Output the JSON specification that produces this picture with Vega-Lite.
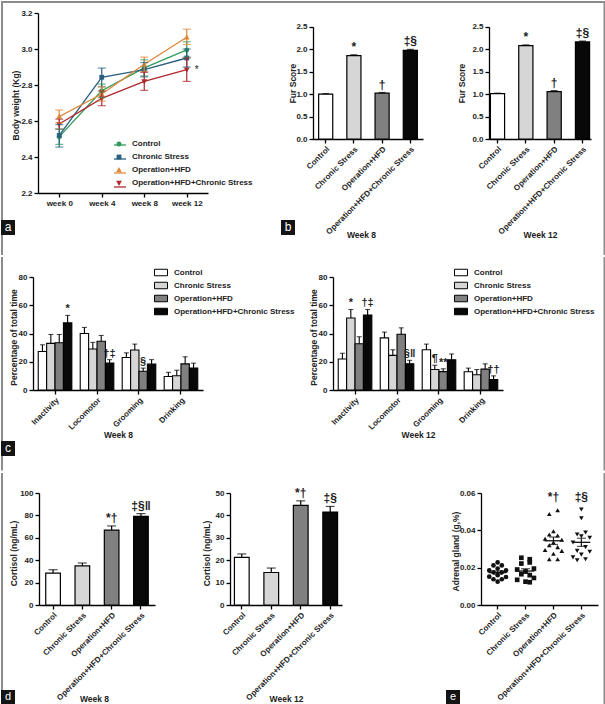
{
"$schema": "https://vega.github.io/schema/vega-lite/v6.json",
"padding": 0,
"background": "#ffffff",
"config": {
  "view": {"stroke": null},
  "font": "Liberation Sans",
  "axis": {"grid": false, "domainColor": "#000", "domainWidth": 1.3, "tickColor": "#000", "tickWidth": 1.3, "tickSize": 4, "labelFont": "Liberation Sans", "labelFontSize": 8, "labelFontWeight": "bold", "labelColor": "#222", "titleFont": "Liberation Sans", "titleFontSize": 8.5, "titleFontWeight": "bold", "titleColor": "#222", "labelPadding": 2, "labelOverlap": false},
  "legend": {"labelFont": "Liberation Sans", "labelFontSize": 8, "labelFontWeight": "bold", "labelColor": "#222", "padding": 0}
},
"spacing": 0,
"resolve": {"scale": {"color": "independent", "shape": "independent", "stroke": "independent", "xOffset": "independent", "x": "independent", "y": "independent"}, "legend": {"color": "independent", "shape": "independent", "stroke": "independent"}},
"vconcat": [
{"hconcat": [
{"width": 37, "height": 180, "data": {"values": [{"l": "a"}]}, "layer": [
  {"mark": {"type": "rect", "opacity": 0}, "encoding": {"x": {"value": 0}, "x2": {"value": 1}, "y": {"value": -12}, "y2": {"value": 242}}},
  {"mark": {"type": "rule", "color": "#8c8c8c", "strokeWidth": 2}, "encoding": {"x": {"value": 1}, "y": {"value": -12}, "y2": {"value": 242}}},
  {"mark": {"type": "rule", "color": "#8c8c8c", "strokeWidth": 2}, "encoding": {"x": {"value": 603.5}, "y": {"value": -12}, "y2": {"value": 242}}},
  {"mark": {"type": "rule", "color": "#8c8c8c", "strokeWidth": 2}, "encoding": {"x": {"value": 0}, "x2": {"value": 604.5}, "y": {"value": -11}}},
  {"mark": {"type": "rect", "color": "#141414"}, "encoding": {"x": {"value": 0}, "x2": {"value": 14}, "y": {"value": 207}, "y2": {"value": 222}}},
  {"mark": {"type": "text", "color": "#ffffff", "fontSize": 12, "align": "center", "baseline": "middle"}, "encoding": {"x": {"value": 7}, "y": {"value": 214}, "text": {"field": "l"}}}
]},
{"width": 170, "height": 180,
 "data": {"values": [
  {"group": "Control", "sym": "1", "wk": 0, "value": 2.513, "lo": 2.47, "hi": 2.555},
  {"group": "Control", "sym": "1", "wk": 4, "value": 2.768, "lo": 2.73, "hi": 2.805},
  {"group": "Control", "sym": "1", "wk": 8, "value": 2.895, "lo": 2.85, "hi": 2.94},
  {"group": "Control", "sym": "1", "wk": 12, "value": 2.995, "lo": 2.955, "hi": 3.04},
  {"group": "Chronic Stress", "sym": "2", "wk": 0, "value": 2.52, "lo": 2.455, "hi": 2.58},
  {"group": "Chronic Stress", "sym": "2", "wk": 4, "value": 2.843, "lo": 2.79, "hi": 2.894},
  {"group": "Chronic Stress", "sym": "2", "wk": 8, "value": 2.885, "lo": 2.845, "hi": 2.925},
  {"group": "Chronic Stress", "sym": "2", "wk": 12, "value": 2.95, "lo": 2.9, "hi": 3.0},
  {"group": "Operation+HFD", "sym": "3", "wk": 0, "value": 2.624, "lo": 2.59, "hi": 2.661},
  {"group": "Operation+HFD", "sym": "3", "wk": 4, "value": 2.75, "lo": 2.71, "hi": 2.79},
  {"group": "Operation+HFD", "sym": "3", "wk": 8, "value": 2.915, "lo": 2.875, "hi": 2.955},
  {"group": "Operation+HFD", "sym": "3", "wk": 12, "value": 3.065, "lo": 3.025, "hi": 3.11},
  {"group": "Operation+HFD+Chronic Stress", "sym": "4", "wk": 0, "value": 2.583, "lo": 2.555, "hi": 2.61},
  {"group": "Operation+HFD+Chronic Stress", "sym": "4", "wk": 4, "value": 2.726, "lo": 2.685, "hi": 2.767},
  {"group": "Operation+HFD+Chronic Stress", "sym": "4", "wk": 8, "value": 2.82, "lo": 2.77, "hi": 2.87},
  {"group": "Operation+HFD+Chronic Stress", "sym": "4", "wk": 12, "value": 2.885, "lo": 2.82, "hi": 2.95}
 ]},
 "encoding": {"x": {"field": "wk", "type": "quantitative", "scale": {"domain": [-2, 14], "nice": false, "zero": false}, "axis": {"values": [0, 4, 8, 12], "tickCount": 20, "labelExpr": "'week ' + datum.value", "title": null, "labelFlush": false}}},
 "layer": [
  {"mark": {"type": "line", "strokeWidth": 1.3}, "encoding": {
    "y": {"field": "value", "type": "quantitative", "scale": {"domain": [2.2, 3.2], "nice": false, "zero": false}, "axis": {"values": [2.2, 2.4, 2.6, 2.8, 3.0, 3.2], "tickCount": 20, "format": ".1f", "title": "Body weight (Kg)", "titleX": -23, "titleY": 92, "titleBaseline": "middle"}},
    "stroke": {"field": "sym", "type": "nominal", "scale": {"domain": ["1", "2", "3", "4"], "range": ["#2f9a5b", "#2a5f80", "#e0883a", "#b0282c"]},
      "legend": {"orient": "none", "legendX": 75, "legendY": 125, "title": null, "symbolType": "stroke", "symbolSize": 144, "symbolStrokeWidth": 1.3, "labelExpr": "' '", "labelOffset": 7, "rowPadding": 3}}}},
  {"mark": {"type": "point", "filled": true, "size": 144, "opacity": 1}, "encoding": {"y": {"field": "value", "type": "quantitative"},
    "color": {"field": "group", "type": "nominal", "scale": {"domain": ["Control", "Chronic Stress", "Operation+HFD", "Operation+HFD+Chronic Stress"], "range": ["#2f9a5b", "#2a5f80", "#e0883a", "#b0282c"]},
      "legend": {"orient": "none", "legendX": 75, "legendY": 125, "title": null, "symbolSize": 144, "labelOffset": 7, "rowPadding": 3, "symbolStrokeWidth": 0}},
    "shape": {"field": "group", "type": "nominal", "scale": {"domain": ["Control", "Chronic Stress", "Operation+HFD", "Operation+HFD+Chronic Stress"], "range": ["M0,-0.42A0.42,0.42 0 1 1 0,0.42A0.42,0.42 0 1 1 0,-0.42Z", "M-0.4,-0.4H0.4V0.4H-0.4Z", "M0,-0.52L0.48,0.36H-0.48Z", "M0,0.52L0.48,-0.36H-0.48Z"]},
      "legend": {"orient": "none", "legendX": 75, "legendY": 125, "title": null, "symbolSize": 144, "labelOffset": 7, "rowPadding": 3, "symbolStrokeWidth": 0}}}},
  {"mark": {"type": "rule", "strokeWidth": 1.2}, "encoding": {"y": {"field": "lo", "type": "quantitative"}, "y2": {"field": "hi"}, "color": {"field": "group", "type": "nominal"}}},
  {"mark": {"type": "tick", "size": 8, "thickness": 1.2, "orient": "horizontal"}, "encoding": {"y": {"field": "lo", "type": "quantitative"}, "color": {"field": "group", "type": "nominal"}}},
  {"mark": {"type": "tick", "size": 8, "thickness": 1.2, "orient": "horizontal"}, "encoding": {"y": {"field": "hi", "type": "quantitative"}, "color": {"field": "group", "type": "nominal"}}},
  {"data": {"values": [{"wk": 12, "value": 2.885, "ann": "*"}]}, "mark": {"type": "text", "dx": 8, "align": "left", "baseline": "middle", "fontSize": 10, "color": "#222"}, "encoding": {"y": {"field": "value", "type": "quantitative"}, "text": {"field": "ann"}}}
 ]},
{"width": 105, "height": 180, "data": {"values": [{"l": "b"}]}, "layer": [
  {"mark": {"type": "rect", "color": "#141414"}, "encoding": {"x": {"value": 73}, "x2": {"value": 87}, "y": {"value": 207}, "y2": {"value": 222}}},
  {"mark": {"type": "text", "color": "#ffffff", "fontSize": 12, "align": "center", "baseline": "middle"}, "encoding": {"x": {"value": 80}, "y": {"value": 214}, "text": {"field": "l"}}}
]},
{"width": 110, "height": 126,
 "data": {"values": [
  {"group": "Control", "value": 1.0, "hi": 1.01, "ann": ""},
  {"group": "Chronic Stress", "value": 1.855, "hi": 1.875, "ann": "*"},
  {"group": "Operation+HFD", "value": 1.02, "hi": 1.035, "ann": "†"},
  {"group": "Operation+HFD+Chronic Stress", "value": 1.975, "hi": 1.995, "ann": "‡§"}
 ]},
 "encoding": {"x": {"field": "group", "type": "nominal", "sort": ["Control", "Chronic Stress", "Operation+HFD", "Operation+HFD+Chronic Stress"], "scale": {"paddingInner": 0.5, "paddingOuter": 0.2}, "axis": {"labelAngle": -45, "title": "Week 8", "titleX": 48, "titleY": 95.7, "titleBaseline": "middle"}}},
 "layer": [
  {"mark": {"type": "bar", "stroke": "#000", "strokeWidth": 1.2}, "encoding": {
    "y": {"field": "value", "type": "quantitative", "scale": {"domain": [0, 2.5], "range": [126, 13.7], "nice": false}, "axis": {"values": [0, 0.5, 1, 1.5, 2, 2.5], "tickCount": 20, "format": ".1f", "title": "Fur Score", "titleX": -21, "titleY": 70, "titleBaseline": "middle"}},
    "color": {"field": "group", "type": "nominal", "scale": {"domain": ["Control", "Chronic Stress", "Operation+HFD", "Operation+HFD+Chronic Stress"], "range": ["#ffffff", "#d6d6d6", "#808080", "#080808"]}, "legend": null}}},
  {"mark": {"type": "rule", "color": "#000", "strokeWidth": 1.2}, "encoding": {"y": {"field": "value", "type": "quantitative"}, "y2": {"field": "hi"}}},
  {"mark": {"type": "tick", "color": "#000", "size": 7, "thickness": 1.2}, "encoding": {"y": {"field": "hi", "type": "quantitative"}}},
  {"mark": {"type": "text", "baseline": "bottom", "dy": -1, "fontSize": 12, "fontWeight": "bold", "color": "#222"}, "encoding": {"y": {"field": "hi", "type": "quantitative"}, "text": {"field": "ann"}}}
 ]},
{"width": 66, "height": 1, "data": {"values": [{}]}, "mark": {"type": "point", "opacity": 0}},
{"width": 102, "height": 126,
 "data": {"values": [
  {"group": "Control", "value": 1.01, "hi": 1.02, "ann": ""},
  {"group": "Chronic Stress", "value": 2.08, "hi": 2.095, "ann": "*"},
  {"group": "Operation+HFD", "value": 1.055, "hi": 1.075, "ann": "†"},
  {"group": "Operation+HFD+Chronic Stress", "value": 2.16, "hi": 2.18, "ann": "‡§"}
 ]},
 "encoding": {"x": {"field": "group", "type": "nominal", "sort": ["Control", "Chronic Stress", "Operation+HFD", "Operation+HFD+Chronic Stress"], "scale": {"paddingInner": 0.5, "paddingOuter": 0.05}, "axis": {"labelAngle": -45, "title": "Week 12", "titleY": 95.7, "titleBaseline": "middle"}}},
 "layer": [
  {"mark": {"type": "bar", "stroke": "#000", "strokeWidth": 1.2}, "encoding": {
    "y": {"field": "value", "type": "quantitative", "scale": {"domain": [0, 2.5], "range": [126, 13.7], "nice": false}, "axis": {"values": [0, 0.5, 1, 1.5, 2, 2.5], "tickCount": 20, "format": ".1f", "title": "Fur Score", "titleX": -28, "titleY": 70, "titleBaseline": "middle"}},
    "color": {"field": "group", "type": "nominal", "scale": {"domain": ["Control", "Chronic Stress", "Operation+HFD", "Operation+HFD+Chronic Stress"], "range": ["#ffffff", "#d6d6d6", "#808080", "#080808"]}, "legend": null}}},
  {"mark": {"type": "rule", "color": "#000", "strokeWidth": 1.2}, "encoding": {"y": {"field": "value", "type": "quantitative"}, "y2": {"field": "hi"}}},
  {"mark": {"type": "tick", "color": "#000", "size": 7, "thickness": 1.2}, "encoding": {"y": {"field": "hi", "type": "quantitative"}}},
  {"mark": {"type": "text", "baseline": "bottom", "dy": -1, "fontSize": 12, "fontWeight": "bold", "color": "#222"}, "encoding": {"y": {"field": "hi", "type": "quantitative"}, "text": {"field": "ann"}}}
 ]}
], "spacing": 0, "bounds": "flush",
 "resolve": {"scale": {"color": "independent", "shape": "independent", "stroke": "independent", "xOffset": "independent", "x": "independent", "y": "independent"}, "legend": {"color": "independent", "shape": "independent", "stroke": "independent"}}},
{"hconcat": [
{"width": 32, "height": 113, "data": {"values": [{"l": "c"}]}, "layer": [
  {"mark": {"type": "rect", "opacity": 0}, "encoding": {"x": {"value": 0}, "x2": {"value": 1}, "y": {"value": -20}, "y2": {"value": 193.4}}},
  {"mark": {"type": "rule", "color": "#8c8c8c", "strokeWidth": 2}, "encoding": {"x": {"value": 1}, "y": {"value": -20}, "y2": {"value": 193.4}}},
  {"mark": {"type": "rule", "color": "#8c8c8c", "strokeWidth": 2}, "encoding": {"x": {"value": 603.5}, "y": {"value": -20}, "y2": {"value": 193.4}}},
  {"mark": {"type": "rect", "color": "#141414"}, "encoding": {"x": {"value": 0}, "x2": {"value": 14}, "y": {"value": 164}, "y2": {"value": 179}}},
  {"mark": {"type": "text", "color": "#ffffff", "fontSize": 12, "align": "center", "baseline": "middle"}, "encoding": {"x": {"value": 7}, "y": {"value": 171}, "text": {"field": "l"}}}
]},
{"width": 170, "height": 113,
 "data": {"values": [
  {"behavior": "Inactivity", "group": "Control", "value": 27.3, "hi": 32.0, "ann": ""},
  {"behavior": "Inactivity", "group": "Chronic Stress", "value": 33.0, "hi": 39.3, "ann": ""},
  {"behavior": "Inactivity", "group": "Operation+HFD", "value": 33.5, "hi": 39.3, "ann": ""},
  {"behavior": "Inactivity", "group": "Operation+HFD+Chronic Stress", "value": 47.5, "hi": 52.8, "ann": "*"},
  {"behavior": "Locomotor", "group": "Control", "value": 40.0, "hi": 44.3, "ann": ""},
  {"behavior": "Locomotor", "group": "Chronic Stress", "value": 29.0, "hi": 33.7, "ann": ""},
  {"behavior": "Locomotor", "group": "Operation+HFD", "value": 34.5, "hi": 38.6, "ann": ""},
  {"behavior": "Locomotor", "group": "Operation+HFD+Chronic Stress", "value": 19.0, "hi": 21.5, "ann": "†‡"},
  {"behavior": "Grooming", "group": "Control", "value": 23.0, "hi": 26.3, "ann": ""},
  {"behavior": "Grooming", "group": "Chronic Stress", "value": 28.3, "hi": 32.5, "ann": ""},
  {"behavior": "Grooming", "group": "Operation+HFD", "value": 13.3, "hi": 15.5, "ann": "§"},
  {"behavior": "Grooming", "group": "Operation+HFD+Chronic Stress", "value": 18.3, "hi": 21.5, "ann": ""},
  {"behavior": "Drinking", "group": "Control", "value": 9.6, "hi": 12.5, "ann": ""},
  {"behavior": "Drinking", "group": "Chronic Stress", "value": 10.1, "hi": 14.0, "ann": ""},
  {"behavior": "Drinking", "group": "Operation+HFD", "value": 18.5, "hi": 23.5, "ann": ""},
  {"behavior": "Drinking", "group": "Operation+HFD+Chronic Stress", "value": 15.5, "hi": 19.0, "ann": ""}
 ]},
 "encoding": {
  "x": {"field": "behavior", "type": "nominal", "sort": ["Inactivity", "Locomotor", "Grooming", "Drinking"], "scale": {"paddingInner": 0.2, "paddingOuter": 0.125}, "axis": {"labelAngle": -45, "title": "Week 8", "titleY": 44.3, "titleBaseline": "middle"}},
  "xOffset": {"field": "group", "type": "nominal", "sort": ["Control", "Chronic Stress", "Operation+HFD", "Operation+HFD+Chronic Stress"], "scale": {"paddingInner": 0, "paddingOuter": 0}}
 },
 "layer": [
  {"mark": {"type": "bar", "stroke": "#000", "strokeWidth": 1.1}, "encoding": {
    "y": {"field": "value", "type": "quantitative", "scale": {"domain": [0, 80], "nice": false}, "axis": {"values": [0, 20, 40, 60, 80], "tickCount": 20, "title": "Percentage of total time", "titleX": -20, "titleY": 60, "titleBaseline": "middle"}},
    "color": {"field": "group", "type": "nominal", "scale": {"domain": ["Control", "Chronic Stress", "Operation+HFD", "Operation+HFD+Chronic Stress"], "range": ["#ffffff", "#d6d6d6", "#808080", "#080808"]},
      "legend": {"orient": "none", "legendX": 121, "legendY": -11.5, "title": null, "symbolType": "M-1,-0.5H1V0.5H-1Z", "symbolSize": 169, "symbolStrokeColor": "#000", "symbolStrokeWidth": 1, "rowPadding": 0, "labelOffset": 6,
        "encode": {"symbols": {"update": {"stroke": {"value": "#000"}, "strokeWidth": {"value": 1}, "opacity": {"value": 1}}}}}}}},
  {"mark": {"type": "rule", "color": "#000", "strokeWidth": 1.1}, "encoding": {"y": {"field": "value", "type": "quantitative"}, "y2": {"field": "hi"}}},
  {"mark": {"type": "tick", "color": "#000", "size": 5, "thickness": 1.1}, "encoding": {"y": {"field": "hi", "type": "quantitative"}}},
  {"mark": {"type": "text", "baseline": "bottom", "dy": -1, "fontSize": 11, "fontWeight": "bold", "color": "#222"}, "encoding": {"y": {"field": "hi", "type": "quantitative"}, "text": {"field": "ann"}}}
 ]},
{"width": 130, "height": 1, "data": {"values": [{}]}, "mark": {"type": "point", "opacity": 0}},
{"width": 170, "height": 113,
 "data": {"values": [
  {"behavior": "Inactivity", "group": "Control", "value": 21.9, "hi": 26.0, "ann": ""},
  {"behavior": "Inactivity", "group": "Chronic Stress", "value": 51.0, "hi": 57.0, "ann": "*"},
  {"behavior": "Inactivity", "group": "Operation+HFD", "value": 32.7, "hi": 37.7, "ann": ""},
  {"behavior": "Inactivity", "group": "Operation+HFD+Chronic Stress", "value": 53.0, "hi": 57.0, "ann": "†‡"},
  {"behavior": "Locomotor", "group": "Control", "value": 36.9, "hi": 41.0, "ann": ""},
  {"behavior": "Locomotor", "group": "Chronic Stress", "value": 24.5, "hi": 28.5, "ann": ""},
  {"behavior": "Locomotor", "group": "Operation+HFD", "value": 39.5, "hi": 44.0, "ann": ""},
  {"behavior": "Locomotor", "group": "Operation+HFD+Chronic Stress", "value": 18.6, "hi": 21.0, "ann": "§‖"},
  {"behavior": "Grooming", "group": "Control", "value": 28.5, "hi": 32.5, "ann": ""},
  {"behavior": "Grooming", "group": "Chronic Stress", "value": 14.5, "hi": 17.5, "ann": "¶"},
  {"behavior": "Grooming", "group": "Operation+HFD", "value": 13.0, "hi": 15.0, "ann": "**"},
  {"behavior": "Grooming", "group": "Operation+HFD+Chronic Stress", "value": 21.4, "hi": 25.5, "ann": ""},
  {"behavior": "Drinking", "group": "Control", "value": 12.9, "hi": 15.5, "ann": ""},
  {"behavior": "Drinking", "group": "Chronic Stress", "value": 10.8, "hi": 14.5, "ann": ""},
  {"behavior": "Drinking", "group": "Operation+HFD", "value": 14.8, "hi": 18.5, "ann": ""},
  {"behavior": "Drinking", "group": "Operation+HFD+Chronic Stress", "value": 7.4, "hi": 10.0, "ann": "††"}
 ]},
 "encoding": {
  "x": {"field": "behavior", "type": "nominal", "sort": ["Inactivity", "Locomotor", "Grooming", "Drinking"], "scale": {"paddingInner": 0.2, "paddingOuter": 0.125}, "axis": {"labelAngle": -45, "title": "Week 12", "titleY": 44.3, "titleBaseline": "middle"}},
  "xOffset": {"field": "group", "type": "nominal", "sort": ["Control", "Chronic Stress", "Operation+HFD", "Operation+HFD+Chronic Stress"], "scale": {"paddingInner": 0, "paddingOuter": 0}}
 },
 "layer": [
  {"mark": {"type": "bar", "stroke": "#000", "strokeWidth": 1.1}, "encoding": {
    "y": {"field": "value", "type": "quantitative", "scale": {"domain": [0, 80], "nice": false}, "axis": {"values": [0, 20, 40, 60, 80], "tickCount": 20, "title": "Percentage of total time", "titleX": -20, "titleY": 60, "titleBaseline": "middle"}},
    "color": {"field": "group", "type": "nominal", "scale": {"domain": ["Control", "Chronic Stress", "Operation+HFD", "Operation+HFD+Chronic Stress"], "range": ["#ffffff", "#d6d6d6", "#808080", "#080808"]},
      "legend": {"orient": "none", "legendX": 121, "legendY": -11.5, "title": null, "symbolType": "M-1,-0.5H1V0.5H-1Z", "symbolSize": 169, "symbolStrokeColor": "#000", "symbolStrokeWidth": 1, "rowPadding": 0, "labelOffset": 6,
        "encode": {"symbols": {"update": {"stroke": {"value": "#000"}, "strokeWidth": {"value": 1}, "opacity": {"value": 1}}}}}}}},
  {"mark": {"type": "rule", "color": "#000", "strokeWidth": 1.1}, "encoding": {"y": {"field": "value", "type": "quantitative"}, "y2": {"field": "hi"}}},
  {"mark": {"type": "tick", "color": "#000", "size": 5, "thickness": 1.1}, "encoding": {"y": {"field": "hi", "type": "quantitative"}}},
  {"mark": {"type": "text", "baseline": "bottom", "dy": -1, "fontSize": 11, "fontWeight": "bold", "color": "#222"}, "encoding": {"y": {"field": "hi", "type": "quantitative"}, "text": {"field": "ann"}}}
 ]}
], "spacing": 0, "bounds": "flush",
 "resolve": {"scale": {"color": "independent", "shape": "independent", "stroke": "independent", "xOffset": "independent", "x": "independent", "y": "independent"}, "legend": {"color": "independent", "shape": "independent", "stroke": "independent"}}},
{"hconcat": [
{"width": 38, "height": 112, "data": {"values": [{"l": "d"}]}, "layer": [
  {"mark": {"type": "rect", "opacity": 0}, "encoding": {"x": {"value": 0}, "x2": {"value": 1}, "y": {"value": -20}, "y2": {"value": 216.6}}},
  {"mark": {"type": "rule", "color": "#8c8c8c", "strokeWidth": 2}, "encoding": {"x": {"value": 1}, "y": {"value": -20}, "y2": {"value": 216.6}}},
  {"mark": {"type": "rule", "color": "#8c8c8c", "strokeWidth": 2}, "encoding": {"x": {"value": 603.5}, "y": {"value": -20}, "y2": {"value": 216.6}}},
  {"mark": {"type": "rule", "color": "#8c8c8c", "strokeWidth": 2}, "encoding": {"x": {"value": 0}, "x2": {"value": 604.5}, "y": {"value": 215.6}}},
  {"mark": {"type": "rect", "color": "#141414"}, "encoding": {"x": {"value": 0}, "x2": {"value": 14}, "y": {"value": 197}, "y2": {"value": 212.5}}},
  {"mark": {"type": "text", "color": "#ffffff", "fontSize": 11, "align": "center", "baseline": "middle"}, "encoding": {"x": {"value": 7}, "y": {"value": 204}, "text": {"field": "l"}}}
]},
{"width": 116, "height": 112,
 "data": {"values": [
  {"group": "Control", "value": 28.5, "hi": 31.5, "ann": ""},
  {"group": "Chronic Stress", "value": 35.0, "hi": 37.5, "ann": ""},
  {"group": "Operation+HFD", "value": 66.8, "hi": 70.6, "ann": "*†"},
  {"group": "Operation+HFD+Chronic Stress", "value": 79.2, "hi": 81.6, "ann": "‡§‖"}
 ]},
 "encoding": {"x": {"field": "group", "type": "nominal", "sort": ["Control", "Chronic Stress", "Operation+HFD", "Operation+HFD+Chronic Stress"], "scale": {"paddingInner": 0.5, "paddingOuter": 0.23}, "axis": {"labelAngle": -45, "title": "Week 8", "titleX": 55, "titleY": 93, "titleBaseline": "middle"}}},
 "layer": [
  {"mark": {"type": "bar", "stroke": "#000", "strokeWidth": 1.2}, "encoding": {
    "y": {"field": "value", "type": "quantitative", "scale": {"domain": [0, 100], "nice": false}, "axis": {"values": [0, 20, 40, 60, 80, 100], "tickCount": 20, "title": "Cortisol (ng/mL)", "titleX": -26, "titleY": 60, "titleBaseline": "middle"}},
    "color": {"field": "group", "type": "nominal", "scale": {"domain": ["Control", "Chronic Stress", "Operation+HFD", "Operation+HFD+Chronic Stress"], "range": ["#ffffff", "#d6d6d6", "#808080", "#080808"]}, "legend": null}}},
  {"mark": {"type": "rule", "color": "#000", "strokeWidth": 1.2}, "encoding": {"y": {"field": "value", "type": "quantitative"}, "y2": {"field": "hi"}}},
  {"mark": {"type": "tick", "color": "#000", "size": 9, "thickness": 1.2}, "encoding": {"y": {"field": "hi", "type": "quantitative"}}},
  {"mark": {"type": "text", "baseline": "bottom", "dy": -1, "fontSize": 12, "fontWeight": "bold", "color": "#222"}, "encoding": {"y": {"field": "hi", "type": "quantitative"}, "text": {"field": "ann"}}}
 ]},
{"width": 75, "height": 1, "data": {"values": [{}]}, "mark": {"type": "point", "opacity": 0}},
{"width": 112, "height": 112,
 "data": {"values": [
  {"group": "Control", "value": 21.3, "hi": 22.8, "ann": ""},
  {"group": "Chronic Stress", "value": 14.5, "hi": 16.5, "ann": ""},
  {"group": "Operation+HFD", "value": 44.5, "hi": 46.5, "ann": "*†"},
  {"group": "Operation+HFD+Chronic Stress", "value": 41.5, "hi": 44.0, "ann": "‡§"}
 ]},
 "encoding": {"x": {"field": "group", "type": "nominal", "sort": ["Control", "Chronic Stress", "Operation+HFD", "Operation+HFD+Chronic Stress"], "scale": {"paddingInner": 0.5, "paddingOuter": 0.15}, "axis": {"labelAngle": -45, "title": "Week 12", "titleY": 93, "titleBaseline": "middle"}}},
 "layer": [
  {"mark": {"type": "bar", "stroke": "#000", "strokeWidth": 1.2}, "encoding": {
    "y": {"field": "value", "type": "quantitative", "scale": {"domain": [0, 50], "nice": false}, "axis": {"values": [0, 10, 20, 30, 40, 50], "tickCount": 20, "title": "Cortisol (ng/mL)", "titleX": -24, "titleY": 60, "titleBaseline": "middle"}},
    "color": {"field": "group", "type": "nominal", "scale": {"domain": ["Control", "Chronic Stress", "Operation+HFD", "Operation+HFD+Chronic Stress"], "range": ["#ffffff", "#d6d6d6", "#808080", "#080808"]}, "legend": null}}},
  {"mark": {"type": "rule", "color": "#000", "strokeWidth": 1.2}, "encoding": {"y": {"field": "value", "type": "quantitative"}, "y2": {"field": "hi"}}},
  {"mark": {"type": "tick", "color": "#000", "size": 9, "thickness": 1.2}, "encoding": {"y": {"field": "hi", "type": "quantitative"}}},
  {"mark": {"type": "text", "baseline": "bottom", "dy": -1, "fontSize": 12, "fontWeight": "bold", "color": "#222"}, "encoding": {"y": {"field": "hi", "type": "quantitative"}, "text": {"field": "ann"}}}
 ]},
{"width": 139, "height": 112, "data": {"values": [{"l": "e"}]}, "layer": [
  {"mark": {"type": "rect", "color": "#141414"}, "encoding": {"x": {"value": 104}, "x2": {"value": 118}, "y": {"value": 197}, "y2": {"value": 212.5}}},
  {"mark": {"type": "text", "color": "#ffffff", "fontSize": 11, "align": "center", "baseline": "middle"}, "encoding": {"x": {"value": 111}, "y": {"value": 204}, "text": {"field": "l"}}}
]},
{"width": 117, "height": 112,
 "data": {"values": [
  {"group": "Control", "value": 0.0228, "col": 3}, {"group": "Control", "value": 0.0212, "col": 2}, {"group": "Control", "value": 0.0212, "col": 4},
  {"group": "Control", "value": 0.0195, "col": 3}, {"group": "Control", "value": 0.0185, "col": 1}, {"group": "Control", "value": 0.0185, "col": 5},
  {"group": "Control", "value": 0.0175, "col": 2}, {"group": "Control", "value": 0.0175, "col": 4}, {"group": "Control", "value": 0.016, "col": 3},
  {"group": "Control", "value": 0.0152, "col": 1}, {"group": "Control", "value": 0.015, "col": 5}, {"group": "Control", "value": 0.0138, "col": 2},
  {"group": "Control", "value": 0.0138, "col": 4}, {"group": "Control", "value": 0.0125, "col": 3},
  {"group": "Chronic Stress", "value": 0.0253, "col": 2}, {"group": "Chronic Stress", "value": 0.0245, "col": 4}, {"group": "Chronic Stress", "value": 0.0228, "col": 4},
  {"group": "Chronic Stress", "value": 0.0222, "col": 2}, {"group": "Chronic Stress", "value": 0.0195, "col": 5}, {"group": "Chronic Stress", "value": 0.019, "col": 1},
  {"group": "Chronic Stress", "value": 0.018, "col": 3}, {"group": "Chronic Stress", "value": 0.0165, "col": 2}, {"group": "Chronic Stress", "value": 0.016, "col": 4},
  {"group": "Chronic Stress", "value": 0.0145, "col": 5}, {"group": "Chronic Stress", "value": 0.0135, "col": 1}, {"group": "Chronic Stress", "value": 0.0125, "col": 3},
  {"group": "Chronic Stress", "value": 0.0122, "col": 4},
  {"group": "Operation+HFD", "value": 0.0508, "col": 4}, {"group": "Operation+HFD", "value": 0.0488, "col": 2}, {"group": "Operation+HFD", "value": 0.0395, "col": 3},
  {"group": "Operation+HFD", "value": 0.0378, "col": 2}, {"group": "Operation+HFD", "value": 0.0372, "col": 4}, {"group": "Operation+HFD", "value": 0.0355, "col": 1},
  {"group": "Operation+HFD", "value": 0.035, "col": 5}, {"group": "Operation+HFD", "value": 0.0335, "col": 3}, {"group": "Operation+HFD", "value": 0.032, "col": 2},
  {"group": "Operation+HFD", "value": 0.031, "col": 4}, {"group": "Operation+HFD", "value": 0.0295, "col": 1}, {"group": "Operation+HFD", "value": 0.029, "col": 5},
  {"group": "Operation+HFD", "value": 0.0275, "col": 3}, {"group": "Operation+HFD", "value": 0.0245, "col": 2}, {"group": "Operation+HFD", "value": 0.0245, "col": 4},
  {"group": "Operation+HFD+Chronic Stress", "value": 0.0512, "col": 3}, {"group": "Operation+HFD+Chronic Stress", "value": 0.0465, "col": 3}, {"group": "Operation+HFD+Chronic Stress", "value": 0.0388, "col": 4},
  {"group": "Operation+HFD+Chronic Stress", "value": 0.0378, "col": 2}, {"group": "Operation+HFD+Chronic Stress", "value": 0.0368, "col": 3}, {"group": "Operation+HFD+Chronic Stress", "value": 0.036, "col": 5},
  {"group": "Operation+HFD+Chronic Stress", "value": 0.0335, "col": 1}, {"group": "Operation+HFD+Chronic Stress", "value": 0.031, "col": 4}, {"group": "Operation+HFD+Chronic Stress", "value": 0.029, "col": 2},
  {"group": "Operation+HFD+Chronic Stress", "value": 0.0285, "col": 5}, {"group": "Operation+HFD+Chronic Stress", "value": 0.027, "col": 3}, {"group": "Operation+HFD+Chronic Stress", "value": 0.0255, "col": 1},
  {"group": "Operation+HFD+Chronic Stress", "value": 0.0245, "col": 4}, {"group": "Operation+HFD+Chronic Stress", "value": 0.024, "col": 2}
 ]},
 "encoding": {"x": {"field": "group", "type": "nominal", "sort": ["Control", "Chronic Stress", "Operation+HFD", "Operation+HFD+Chronic Stress"], "scale": {"type": "band", "paddingInner": 0.4, "paddingOuter": 0.296}, "axis": {"labelAngle": -45, "title": null}}},
 "layer": [
  {"mark": {"type": "point", "filled": true, "size": 22, "color": "#111", "opacity": 1}, "encoding": {
    "y": {"field": "value", "type": "quantitative", "scale": {"domain": [0, 0.06], "nice": false}, "title": "Adrenal gland (g,%)", "axis": {"values": [0, 0.02, 0.04, 0.06], "tickCount": 20, "format": ".2f", "title": "Adrenal gland (g,%)", "titleX": -26, "titleY": 58, "titleBaseline": "middle"}},
    "xOffset": {"field": "col", "type": "ordinal", "scale": {"paddingInner": 0, "paddingOuter": 0}},
    "shape": {"field": "group", "type": "nominal", "scale": {"domain": ["Control", "Chronic Stress", "Operation+HFD", "Operation+HFD+Chronic Stress"], "range": ["circle", "square", "triangle-up", "triangle-down"]}, "legend": null}}},
  {"mark": {"type": "tick", "color": "#111", "size": 18, "thickness": 1.3}, "encoding": {"y": {"aggregate": "mean", "field": "value", "type": "quantitative", "title": "Adrenal gland (g,%)"}}},
  {"mark": {"type": "errorbar", "extent": "stderr", "ticks": true, "size": 9, "thickness": 1.2, "color": "#111"}, "encoding": {"y": {"field": "value", "type": "quantitative", "title": "Adrenal gland (g,%)"}}},
  {"data": {"values": [{"group": "Operation+HFD", "value": 0.0577, "ann": "*†"}, {"group": "Operation+HFD+Chronic Stress", "value": 0.0577, "ann": "‡§"}]},
   "mark": {"type": "text", "baseline": "middle", "fontSize": 12, "fontWeight": "bold", "color": "#222"}, "encoding": {"y": {"field": "value", "type": "quantitative", "title": "Adrenal gland (g,%)"}, "text": {"field": "ann"}}}
 ]}
], "spacing": 0, "bounds": "flush",
 "resolve": {"scale": {"color": "independent", "shape": "independent", "stroke": "independent", "xOffset": "independent", "x": "independent", "y": "independent"}, "legend": {"color": "independent", "shape": "independent", "stroke": "independent"}}}
]
}
